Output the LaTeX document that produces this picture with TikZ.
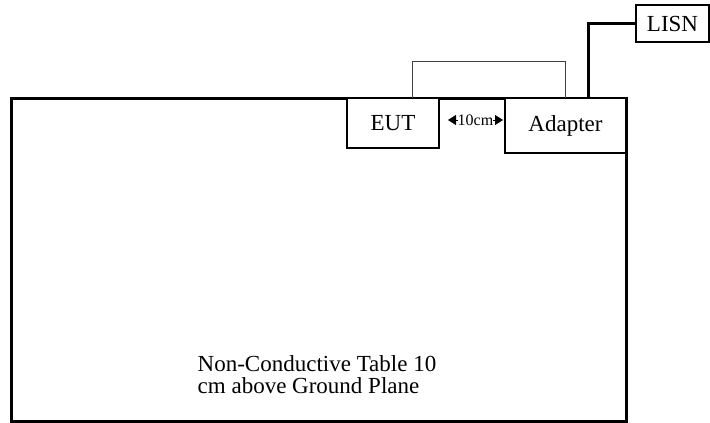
\documentclass[tikz,border=0pt]{standalone}
\usepackage{fontspec}
\setmainfont{Liberation Serif}
\usetikzlibrary{arrows.meta}

\tikzset{
    unit/.style = {draw = black, line width = 1.3pt, fill = white, inner sep = 0pt, outer sep = 0pt, font = \fontsize{23}{23}\selectfont},
    signal/.style = {draw = black!75, line width = 1pt},
    mains/.style = {draw = black, line width = 3pt},
    tip/.style = {Triangle[length = 8pt, width = 10pt]}
}

\begin{document}
\begin{tikzpicture}[x = 1pt, y = -1pt]
    \useasboundingbox (0, 0) rectangle (710, 423);

    \node[draw, line width = 3pt, minimum width = 614.5pt, minimum height = 323pt, inner sep = 0pt, outer sep = 0pt] (table) at (318.75, 259.5) {};
    \node[anchor = base west, align = left, inner sep = 0pt, font = \fontsize{23}{22}\selectfont] (label) at (197.5, 393) {Non-Conductive Table 10\\cm above Ground Plane};

    \node[unit, minimum width = 92pt, minimum height = 50pt] (EUT) at (393, 123) {EUT};
    \node[unit, minimum width = 121pt, minimum height = 55pt] (adapter) at (565.5, 125.5) {Adapter};
    \node[unit, minimum width = 73pt, minimum height = 37pt] (LISN) at (672.5, 23.5) {LISN};

    \draw[signal] ([xshift = 19pt]EUT.north) -- ++(0, -37) -| (adapter.north);
    \draw[mains] ([xshift = 22.5pt]adapter.north) |- (LISN.west);

    \coordinate (gapL) at (448, 120);
    \coordinate (gapR) at (503, 120);
    \draw[{Triangle[length = 8pt, width = 10pt]}-{Triangle[length = 8pt, width = 10pt]}] (gapL) -- node[fill = white, inner sep = 0pt, font = \fontsize{16}{16}\selectfont] (dist) {10cm} (gapR);
\end{tikzpicture}
\end{document}
